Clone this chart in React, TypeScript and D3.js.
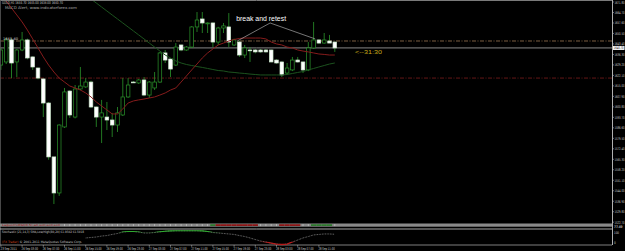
import React from 'react';
import * as d3 from 'd3';

const W = 625;
const H = 251;

// GOLD,H1 candles (index 0 = leftmost visible bar)
const openP = [1629.1,1631.2,1646.1,1631.2,1639.3,1646.1,1634.6,1627.1,1619.7,1603.4,1566.9,1542.5,1587.2,1611.5,1593.9,1612.9,1614.3,1617.6,1600.7,1593.9,1593.9,1591.9,1588.5,1595.3,1607.5,1617.6,1617.0,1619.0,1608.8,1613.6,1617.6,1637.3,1633.2,1629.1,1642.7,1639.3,1641.3,1654.9,1660.3,1657.0,1657.6,1644.7,1654.2,1654.9,1642.7,1644.7,1635.9,1639.3,1639.3,1639.3,1639.3,1639.3,1632.5,1631.2,1623.7,1625.8,1632.5,1631.2,1625.8,1640.7,1646.1,1644.0,1645.4,1644.7];
const highP = [1640.7,1647.4,1647.0,1640.0,1651.5,1647.0,1635.0,1627.5,1620.0,1604.0,1567.0,1589.0,1613.6,1612.0,1615.6,1627.8,1620.3,1618.5,1601.0,1605.5,1604.1,1596.7,1600.7,1620.3,1620.3,1618.3,1619.7,1621.0,1618.3,1624.4,1638.0,1639.3,1633.5,1644.0,1643.0,1642.0,1655.5,1665.0,1665.0,1658.0,1658.0,1655.0,1657.6,1664.3,1647.0,1645.5,1642.7,1641.3,1640.0,1640.0,1640.0,1639.6,1633.0,1631.5,1630.5,1634.6,1634.6,1631.5,1644.7,1658.3,1646.5,1650.8,1649.5,1645.0];
const lowP = [1625.8,1629.8,1620.3,1621.0,1638.5,1633.0,1625.8,1619.5,1593.9,1565.0,1535.0,1540.5,1586.5,1593.3,1593.0,1612.0,1613.6,1600.0,1587.2,1576.3,1585.1,1580.4,1583.8,1594.6,1606.8,1616.9,1616.3,1608.0,1606.8,1612.2,1617.0,1630.5,1621.0,1628.5,1638.5,1638.7,1640.7,1651.5,1650.8,1650.8,1641.3,1642.7,1650.8,1641.3,1642.0,1634.6,1633.9,1631.2,1637.0,1637.5,1637.5,1631.0,1630.0,1621.0,1622.4,1625.0,1630.8,1623.7,1625.0,1640.0,1643.5,1643.5,1644.0,1638.0];
const closeP = [1639.3,1646.1,1630.5,1639.3,1646.1,1633.9,1627.8,1620.3,1603.4,1566.9,1542.5,1588.5,1610.9,1595.3,1612.9,1614.9,1617.6,1600.7,1593.9,1596.7,1591.9,1588.5,1596.7,1607.5,1615.6,1617.3,1619.0,1608.8,1617.6,1617.6,1637.3,1632.5,1626.4,1641.3,1639.3,1641.3,1654.9,1659.6,1657.6,1657.6,1644.7,1654.2,1655.6,1644.7,1646.1,1635.9,1640.7,1639.0,1638.0,1638.0,1638.0,1631.2,1630.5,1622.4,1627.1,1632.5,1631.2,1625.8,1640.7,1646.1,1644.0,1646.1,1644.0,1640.7];

// moving averages (null = not shown)
const redMA = [null,1672.5,1667.7,1663.0,1658.3,1652.8,1646.8,1640.7,1634.6,1629.1,1624.4,1620.3,1617.6,1614.9,1613.6,1612.2,1610.2,1607.5,1604.1,1601.4,1598.7,1596.0,1596.0,1599.4,1603.4,1604.8,1605.5,1606.1,1606.8,1607.5,1608.8,1610.2,1612.2,1613.6,1617.6,1621.7,1625.8,1629.8,1633.9,1637.3,1640.0,1642.7,1644.0,1645.4,1646.4,1647.1,1647.4,1647.4,1647.4,1647.4,1646.8,1644.7,1643.4,1642.7,1641.3,1640.7,1639.3,1638.6,1638.0,1637.3,1636.6,1636.3,1635.9,1635.9];
const greenMA = [null,null,null,null,null,null,null,null,null,null,null,null,null,null,null,1679.2,1676.5,1673.8,1671.1,1668.4,1665.7,1663.0,1660.3,1657.6,1654.9,1652.2,1649.5,1646.8,1644.0,1641.3,1638.6,1635.9,1633.9,1631.9,1630.5,1629.5,1628.8,1628.1,1627.5,1626.8,1626.1,1625.4,1625.1,1624.4,1624.1,1623.7,1623.4,1623.0,1622.7,1622.4,1622.4,1622.4,1622.4,1622.4,1622.7,1623.4,1624.1,1624.7,1625.8,1626.8,1627.8,1628.8,1629.8,1630.5];

// stochastic main line
const stochValues = [null,null,null,null,null,null,null,null,null,null,null,null,null,null,null,null,44,47,50,56,59,66,72,81,84,84,81,75,75,78,82,86,88,89,89,89,89,89,88,84,78,75,72,69,66,59,53,44,34,25,19,12,6,3,6,19,31,44,53,63,66,69,69,67];

// tiny signal strip: -1 sell, 1 buy, 0 none
const stripSignal = [0,0,0,0,0,0,0,0,0,0,0,0,0,0,0,0,0,0,0,0,0,0,0,0,0,0,0,0,0,0,0,0,0,0,0,0,0,0,0,0,1,-1,-1,-1,-1,-1,-1,-1,-1,0,0,0,0,-1,-1,-1,-1,0,0,1,1,1,1,0];

const priceTickLabels = ['1671.80','1664.70','1657.60','1650.50','1643.40','1636.30','1629.20','1622.10','1615.00','1607.90','1600.80','1593.70','1586.60','1579.50','1572.40','1565.30','1558.20','1551.10','1544.00','1536.90','1529.80','1522.70'];
const dateLabels = ['23 Sep 2011','26 Sep 03:00','26 Sep 07:00','26 Sep 11:00','26 Sep 15:00','26 Sep 19:00','26 Sep 23:00','27 Sep 03:00','27 Sep 07:00','27 Sep 11:00','27 Sep 15:00','27 Sep 19:00','27 Sep 23:00','28 Sep 03:00','28 Sep 07:00','28 Sep 11:00'];

const bidPrice = 1640.7;
const orangeLevel = 1645.4;
const redLevel = 1620.3;
const annoIdx = [44.6, 50.8, 59.3];
const annoPrice = [1645.4, 1657.6, 1646.8];

const GREEN = '#2b952b';
const FONT = '"DejaVu Sans", Arial, sans-serif';
const LIB = '"Liberation Sans", Arial, sans-serif';

let measureCtx: CanvasRenderingContext2D | null = null;
function textWidth(text: string, size: number, family: string): number {
  if (!measureCtx && typeof document !== 'undefined') {
    measureCtx = document.createElement('canvas').getContext('2d');
  }
  if (!measureCtx) return text.length * size * 0.6;
  measureCtx.font = `${size}px ${family}`;
  return measureCtx.measureText(text).width || text.length * size * 0.6;
}

type FitProps = {
  x: number; y: number; w: number; size: number; fill?: string; family?: string;
  text: string; children?: React.ReactNode;
};
function FitText({ x, y, w, size, fill, family = FONT, text, children }: FitProps) {
  const sx = w / textWidth(text, size, family);
  return (
    <text transform={`translate(${x},${y}) scale(${sx},1)`} fontSize={size} fontFamily={family} fill={fill}>
      {children ?? text}
    </text>
  );
}

export default function App() {
  React.useEffect(() => { document.body.style.margin = '0'; }, []);

  const axisX = 612;
  const mainBottom = 223.5;
  const x = d3.scaleLinear().domain([0, 63]).range([0.9, 334.8]);
  const pMin = +priceTickLabels[priceTickLabels.length - 1];
  const pMax = +priceTickLabels[0];
  const y = d3.scaleLinear().domain([pMin, pMax]).range([222.2, 2]);
  const ys = d3.scaleLinear().domain([0, 100]).range([245, 229]);

  const maLine = d3.line<number | null>()
    .defined(d => d !== null)
    .x((_, i) => x(i))
    .y(d => y(d as number));
  const stLine = d3.line<number | null>()
    .defined(d => d !== null)
    .x((_, i) => x(i))
    .y(d => ys(d as number));

  const bw = 3.6;
  const header = `GOLD,H1 ${openP[63].toFixed(2)} ${highP[63].toFixed(2)} ${lowP[63].toFixed(2)} ${closeP[63].toFixed(2)}`;

  return (
    <svg width={W} height={H} style={{ position: 'absolute', left: 0, top: 0, background: '#000', display: 'block' }}>
      <defs>
        <clipPath id="mainClip"><rect x={0} y={0} width={axisX} height={mainBottom} /></clipPath>
        <clipPath id="stHi"><rect x={0} y={0} width={axisX} height={ys(80)} /></clipPath>
        <clipPath id="stLo"><rect x={0} y={ys(20)} width={axisX} height={H - ys(20)} /></clipPath>
      </defs>
      <rect x={0} y={0} width={W} height={H} fill="#000" />

      <g clipPath="url(#mainClip)">
        {/* level lines */}
        <line x1={0} x2={axisX} y1={y(orangeLevel)} y2={y(orangeLevel)} stroke="#9c7650" strokeWidth={0.8} strokeDasharray="4 1.5 1 1.5" />
        <line x1={0} x2={axisX} y1={y(redLevel)} y2={y(redLevel)} stroke="#7c1c1c" strokeWidth={0.8} strokeDasharray="4 1.5 1 1.5" />
        <line x1={0} x2={axisX} y1={y(bidPrice)} y2={y(bidPrice)} stroke="#a8a8a8" strokeWidth={0.8} />

        {/* candles */}
        {openP.map((o, i) => {
          const c = closeP[i];
          const cx = x(i);
          const bull = c >= o;
          const top = y(Math.max(o, c));
          const bot = y(Math.min(o, c));
          const h = Math.max(bot - top, 0.8);
          return (
            <g key={i}>
              <line x1={cx} x2={cx} y1={y(highP[i])} y2={y(lowP[i])} stroke={GREEN} strokeWidth={0.8} />
              <rect x={cx - bw / 2} y={top} width={bw} height={h}
                fill={bull ? '#000' : '#ffffff'} stroke={bull ? GREEN : '#cfe8cf'} strokeWidth={0.7} />
            </g>
          );
        })}

        {/* moving averages */}
        <path d={maLine(greenMA) || ''} fill="none" stroke="#1c521e" strokeWidth={1} />
        <path d={maLine(redMA) || ''} fill="none" stroke="#861c1c" strokeWidth={1} />

        {/* annotation */}
        <line x1={x(annoIdx[1])} y1={y(annoPrice[1])} x2={x(annoIdx[0])} y2={y(annoPrice[0])} stroke="#c4c4c4" strokeWidth={0.6} />
        <line x1={x(annoIdx[1])} y1={y(annoPrice[1])} x2={x(annoIdx[2])} y2={y(annoPrice[2])} stroke="#c4c4c4" strokeWidth={0.6} />
        <FitText x={x(annoIdx[1]) - 34} y={y(annoPrice[1]) - 2} w={50} size={6.5} fill="#ffffff" family={LIB} text="break and retest" />

        <FitText x={355} y={53.5} w={27} size={5.5} fill="#c9aa1a" family={LIB} text="<--31:30" />

        <FitText x={3} y={y(orangeLevel) - 1} w={15} size={3.4} fill="#d8d8d8" text={orangeLevel.toFixed(2)} />
      </g>

      {/* header texts */}
      <FitText x={2} y={4.4} w={61} size={3.8} fill="#c8c8c8" text={header} />
      <FitText x={5} y={8.7} w={72} size={3.8} fill="#b0b0b0" text="MACD Alert, www.indicatorforex.com" />

      {/* frame */}
      <line x1={0} x2={axisX} y1={0.5} y2={0.5} stroke="#7a7a7a" strokeWidth={1} />
      <line x1={0.5} x2={0.5} y1={0} y2={245} stroke="#5a5a5a" strokeWidth={0.8} />

      {/* signal strip sub-window */}
      <rect x={0} y={mainBottom} width={axisX} height={3.2} fill="#8a8a8a" />
      {stripSignal.map((s, i) => s !== 0 ? (
        <rect key={'s' + i} x={x(i) - 2.65} y={mainBottom + 0.7} width={5.3} height={1.8} fill={s < 0 ? '#8c1616' : '#2e7a2e'} />
      ) : (i >= 12 ? (
        <line key={'s' + i} x1={x(i)} x2={x(i)} y1={mainBottom + 0.6} y2={mainBottom + 2.6} stroke="#e0e0e0" strokeWidth={0.5} />
      ) : null))}
      <FitText x={2} y={mainBottom + 2.6} w={58} size={2.6} fill="#a01010" text="LaguerreRSI(0.5),all,sell,sell,sell" />

      {/* stochastic window */}
      <line x1={0} x2={axisX} y1={229} y2={229} stroke="#d0d0d0" strokeWidth={0.8} />
      <line x1={0} x2={axisX} y1={245} y2={245} stroke="#a0a0a0" strokeWidth={0.8} />
      <path d={stLine(stochValues) || ''} fill="none" stroke="#c8c8c8" strokeWidth={0.6} strokeDasharray="0.8 0.8" />
      <path d={stLine(stochValues) || ''} fill="none" stroke="#2faa2f" strokeWidth={1.1} clipPath="url(#stHi)" />
      <path d={stLine(stochValues) || ''} fill="none" stroke="#b41a1a" strokeWidth={1.3} clipPath="url(#stLo)" />
      <FitText x={2} y={233} w={82} size={3.2} fill="#c8c8c8" text="Stochastic (21,14,3) SMA,Low/High(80,20) 61.9502 61.5018" />
      <FitText x={2} y={243.3} w={80} size={3.2} text="(FX Trader) © 2001-2011 MetaQuotes Software Corp.">
        <tspan fill="#d0401a">(FX Trader)</tspan><tspan fill="#c0c0c0"> © 2001-2011 MetaQuotes Software Corp.</tspan>
      </FitText>

      {/* price axis */}
      <line x1={axisX + 0.5} x2={axisX + 0.5} y1={0} y2={245} stroke="#b0b0b0" strokeWidth={1} />
      {priceTickLabels.map((t) => {
        const ty = y(+t);
        return (
          <g key={t}>
            <line x1={axisX} x2={axisX + 2} y1={ty} y2={ty} stroke="#b0b0b0" strokeWidth={0.6} />
            <FitText x={axisX + 2.5} y={Math.max(ty + 1.4, 3.6)} w={10} size={3.6} fill="#cfcfcf" text={t} />
          </g>
        );
      })}
      <rect x={axisX + 1} y={y(bidPrice) - 2} width={11.5} height={4} fill="#ffffff" />
      <FitText x={axisX + 1.6} y={y(bidPrice) + 1.4} w={10} size={3.6} fill="#000" text={bidPrice.toFixed(2)} />

      {/* stochastic axis */}
      <FitText x={axisX + 2} y={228} w={8.5} size={3.4} fill="#ffffff" text="77.49" />
      <FitText x={axisX + 2} y={233.5} w={5} size={3.4} fill="#cfcfcf" text="100" />
      <FitText x={axisX + 2} y={244.3} w={1.8} size={3.4} fill="#cfcfcf" text="0" />

      {/* time axis */}
      {dateLabels.map((t, k) => {
        const tx = x(4 * k);
        return (
          <g key={t}>
            <line x1={tx} x2={tx} y1={245} y2={246.8} stroke="#b0b0b0" strokeWidth={0.6} />
            <FitText x={Math.max(tx - 0.5, 0.5)} y={249.6} w={16.5} size={3.6} fill="#cfcfcf" text={t} />
          </g>
        );
      })}
    </svg>
  );
}
